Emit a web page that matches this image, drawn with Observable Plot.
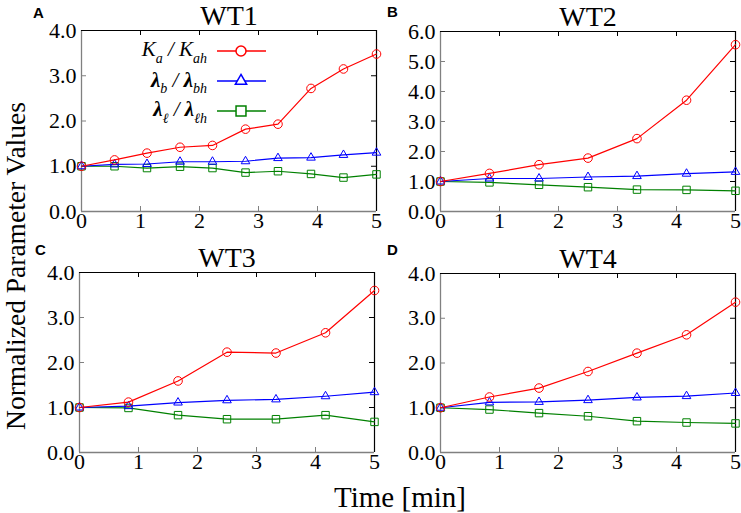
<!DOCTYPE html>
<html>
<head>
<meta charset="utf-8">
<script src="https://cdn.jsdelivr.net/npm/d3@7"></script>
<script src="https://cdn.jsdelivr.net/npm/@observablehq/plot@0.6"></script>
<style>
  html, body { margin: 0; padding: 0; background: #ffffff; }
  #chart { position: relative; width: 741px; height: 513px; overflow: hidden; background: #ffffff; }
  #chart svg { position: absolute; }
  #chart svg text, #chart svg tspan { font-family: 'Liberation Serif', 'Times New Roman', Times, serif !important; font-variant: normal !important; }
  #chart svg text.sans { font-family: 'Liberation Sans', Arial, Helvetica, sans-serif !important; }
</style>
</head>
<body>
<div id="chart"></div>
<script>
// ---- data ----
const panelTitles = ["WT1", "WT2", "WT3", "WT4"];
const panelLetters = ["A", "B", "C", "D"];
const seriesNames = ["Ka", "lb", "ll"];
const xTicks = [0, 1, 2, 3, 4, 5];
const yTicks4 = [0, 1, 2, 3, 4];
const yTicks6 = [0, 1, 2, 3, 4, 5, 6];

const timesWT1 = [0, 0.56, 1.11, 1.67, 2.22, 2.78, 3.33, 3.89, 4.44, 5];
const timesWT234 = [0, 0.83, 1.67, 2.5, 3.33, 4.17, 5];

const wt1Ka = [1.0, 1.14, 1.29, 1.42, 1.46, 1.82, 1.93, 2.72, 3.15, 3.48];
const wt1Lb = [1.0, 1.04, 1.05, 1.10, 1.10, 1.11, 1.18, 1.19, 1.25, 1.30];
const wt1Ll = [1.0, 1.0, 0.96, 0.99, 0.96, 0.86, 0.89, 0.83, 0.75, 0.82];

const wt2Ka = [1.0, 1.27, 1.56, 1.78, 2.43, 3.71, 5.56];
const wt2Lb = [1.0, 1.10, 1.10, 1.15, 1.18, 1.26, 1.32];
const wt2Ll = [1.0, 0.97, 0.89, 0.81, 0.73, 0.72, 0.69];

const wt3Ka = [1.0, 1.12, 1.59, 2.23, 2.21, 2.66, 3.60];
const wt3Lb = [1.0, 1.03, 1.11, 1.16, 1.18, 1.25, 1.34];
const wt3Ll = [1.0, 0.99, 0.83, 0.74, 0.74, 0.83, 0.68];

const wt4Ka = [1.0, 1.24, 1.44, 1.81, 2.22, 2.63, 3.36];
const wt4Lb = [1.0, 1.12, 1.13, 1.17, 1.23, 1.26, 1.33];
const wt4Ll = [1.0, 0.96, 0.88, 0.81, 0.70, 0.67, 0.65];

// ---- styles ----
const COLORS = {Ka: "#ff0000", lb: "#0000ff", ll: "#008000"};
const SYMBOLS = {Ka: "circle", lb: "triangle", ll: "square"};
const RADII = {Ka: 4.3, lb: 3.2, ll: 4.2};
const GREY = "#808080";
const BLACK = "#000000";
const SERIF = "'Liberation Serif', 'Times New Roman', Times, serif";
const SANS = "'Liberation Sans', Arial, Helvetica, sans-serif";

const chart = document.getElementById("chart");

function panel(cfg) {
  const {title, times, series, yMax, yTicks, left, top, width, height, ml, mr, mt, mb} = cfg;
  const fw = width - ml - mr, fh = height - mt - mb;
  const rows = [];
  seriesNames.forEach((s, k) => series[k].forEach((v, i) => rows.push({t: times[i], v, s})));
  const yInner = yTicks.slice(1, -1);
  const xInner = xTicks.slice(1, -1);
  const marks = [
    Plot.ruleX([0], {stroke: GREY, strokeWidth: 1.3}),
    Plot.ruleY([0], {stroke: GREY, strokeWidth: 1.3}),
    Plot.ruleX([5], {stroke: BLACK, strokeWidth: 1.2}),
    Plot.ruleY([yMax], {stroke: BLACK, strokeWidth: 1.2}),
    Plot.tickY(yInner, {y: d => d, insetRight: fw - 5, stroke: GREY}),
    Plot.tickY(yInner, {y: d => d, insetLeft: fw - 5, stroke: BLACK}),
    Plot.tickX(xInner, {x: d => d, insetTop: fh - 5, stroke: GREY}),
    Plot.tickX(xInner, {x: d => d, insetBottom: fh - 5, stroke: BLACK}),
    // tick labels drawn through the scales
    Plot.text(yTicks, {y: d => d, text: d => d.toFixed(1), frameAnchor: "left", textAnchor: "end", dx: -5,
                       fontSize: 22, fontFamily: SERIF, fill: BLACK}),
    Plot.text(xTicks, {x: d => d, text: d => String(d), frameAnchor: "bottom", lineAnchor: "top", dy: 1,
                       fontSize: 22, fontFamily: SERIF, fill: BLACK}),
  ];
  for (const s of ["ll", "lb", "Ka"]) {
    const data = rows.filter(r => r.s === s);
    marks.push(Plot.line(data, {x: "t", y: "v", stroke: COLORS[s], strokeWidth: 1.2}));
    marks.push(Plot.dot(data, {x: "t", y: "v", symbol: () => SYMBOLS[s], r: RADII[s], fill: "none", stroke: COLORS[s], strokeWidth: 1}));
  }
  marks.push(Plot.text([title], {frameAnchor: "top", dy: -6, lineAnchor: "bottom", fontSize: 28, fontFamily: SERIF, fill: BLACK}));
  const svg = Plot.plot({
    width, height,
    marginLeft: ml, marginRight: mr, marginTop: mt, marginBottom: mb,
    x: {domain: [0, 5], axis: null},
    y: {domain: [0, yMax], axis: null},
    symbol: {type: "identity"},
    style: {fontFamily: SERIF, fontSize: "22px", background: "transparent", overflow: "visible",
            left: left + "px", top: top + "px", position: "absolute", maxWidth: "none", color: BLACK},
    marks
  });
  chart.appendChild(svg);
  return svg;
}

const svgA = panel({title: panelTitles[0], times: timesWT1, series: [wt1Ka, wt1Lb, wt1Ll], yMax: 4, yTicks: yTicks4,
  left: 0, top: 0, width: 400, height: 240, ml: 81, mr: 24, mt: 30, mb: 29});
panel({title: panelTitles[1], times: timesWT234, series: [wt2Ka, wt2Lb, wt2Ll], yMax: 6, yTicks: yTicks6,
  left: 380, top: 0, width: 361, height: 240, ml: 60, mr: 6, mt: 31, mb: 29});
panel({title: panelTitles[2], times: timesWT234, series: [wt3Ka, wt3Lb, wt3Ll], yMax: 4, yTicks: yTicks4,
  left: 0, top: 242, width: 400, height: 240, ml: 79, mr: 26, mt: 30, mb: 30});
panel({title: panelTitles[3], times: timesWT234, series: [wt4Ka, wt4Lb, wt4Ll], yMax: 4, yTicks: yTicks4,
  left: 380, top: 242, width: 361, height: 240, ml: 60, mr: 6, mt: 31, mb: 30});

// ---- legend (panel A) ----
const legendRows = [
  {s: "Ka", y: 51, base: 56, parts: [["K", "main"], ["a", "sub"], [" / ", "main"], ["K", "main"], ["ah", "sub"]]},
  {s: "lb", y: 81, base: 86.5, parts: [["λ", "lam"], ["b", "sub"], [" / ", "main"], ["λ", "lam"], ["bh", "sub"]]},
  {s: "ll", y: 111, base: 116, parts: [["λ", "lam"], ["ℓ", "sub"], [" / ", "main"], ["λ", "lam"], ["ℓh", "sub"]]}
];
const legendSymbolR = {Ka: 5, lb: 4.2, ll: 5.6};
const gA = d3.select(svgA).append("g");
legendRows.forEach(row => {
  const txt = gA.append("text")
    .attr("x", 207).attr("y", row.base)
    .attr("text-anchor", "end")
    .attr("font-family", SERIF)
    .attr("font-style", "italic")
    .attr("fill", BLACK);
  let shifted = false;
  row.parts.forEach(([str, kind]) => {
    const ts = txt.append("tspan").text(str);
    if (kind === "sub") {
      ts.attr("font-size", 14);
      if (!shifted) { ts.attr("dy", 6.5); shifted = true; }
    } else {
      ts.attr("font-size", 21);
      if (shifted) { ts.attr("dy", -6.5); shifted = false; }
      if (kind === "lam") ts.attr("font-weight", "bold");
    }
  });
  gA.append("line").attr("x1", 217).attr("x2", 266).attr("y1", row.y).attr("y2", row.y)
    .attr("stroke", COLORS[row.s]).attr("stroke-width", 1.3);
  gA.append("path")
    .attr("transform", `translate(241,${row.y})`)
    .attr("d", d3.symbol(row.s === "Ka" ? d3.symbolCircle : row.s === "lb" ? d3.symbolTriangle : d3.symbolSquare,
                         Math.PI * legendSymbolR[row.s] ** 2)())
    .attr("fill", "white").attr("stroke", COLORS[row.s]).attr("stroke-width", 1.5);
});

// ---- overlay texts ----
const ov = d3.select(chart).append("svg")
  .attr("width", 741).attr("height", 513)
  .style("left", "0px").style("top", "0px").style("pointer-events", "none");
const letterPos = [[33, 18], [387, 17], [35, 255], [387, 255]];
panelLetters.forEach((L, i) => {
  ov.append("text").attr("class", "sans").attr("x", letterPos[i][0]).attr("y", letterPos[i][1])
    .attr("font-family", SANS).attr("font-weight", "bold").attr("font-size", 15).text(L);
});
ov.append("text")
  .attr("transform", "translate(24.5,266) rotate(-90)")
  .attr("text-anchor", "middle").attr("font-family", SERIF).attr("font-size", 27.5)
  .text("Normalized Parameter Values");
ov.append("text")
  .attr("x", 400).attr("y", 507)
  .attr("text-anchor", "middle").attr("font-family", SERIF).attr("font-size", 29)
  .text("Time [min]");
</script>
</body>
</html>
